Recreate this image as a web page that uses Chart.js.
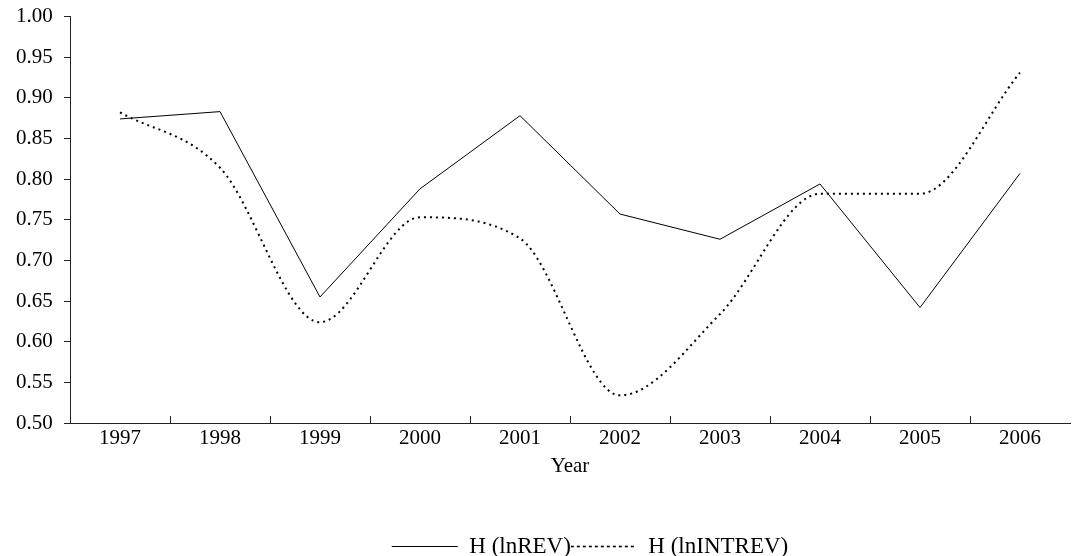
<!DOCTYPE html>
<html>
<head>
<meta charset="utf-8">
<script src="https://cdn.jsdelivr.net/npm/chart.js@4/dist/chart.umd.min.js"></script>
<style>
  html, body { margin: 0; padding: 0; background: #fff; overflow: hidden; }
  #wrap { width: 1087px; height: 568px; }
</style>
</head>
<body>
<div id="wrap"><canvas id="hchart"></canvas></div>
<script>
const years = ['1997', '1998', '1999', '2000', '2001', '2002', '2003', '2004', '2005', '2006'];
const hRev = [0.874, 0.883, 0.655, 0.788, 0.878, 0.757, 0.726, 0.794, 0.642, 0.807];
const hIntRev = [0.882, 0.814, 0.624, 0.753, 0.727, 0.534, 0.634, 0.782, 0.782, 0.931];

const FAMILY = "'Liberation Serif', serif";
const TICK_FONT = { family: FAMILY, size: 21, lineHeight: 1 };
const LEGEND_FONT = { family: FAMILY, size: 23 };

// inward x ticks between categories, like the original
const innerTicks = {
  id: 'innerTicks',
  afterDraw(chart) {
    const x = chart.scales.x;
    const ctx = chart.ctx;
    const bottom = chart.chartArea.bottom;
    ctx.save();
    ctx.strokeStyle = '#222';
    ctx.lineWidth = 1;
    for (let i = 0; i < years.length - 1; i++) {
      const px = Math.round((x.getPixelForValue(i) + x.getPixelForValue(i + 1)) / 2) + 0.5;
      ctx.beginPath();
      ctx.moveTo(px, bottom);
      ctx.lineTo(px, bottom - 7);
      ctx.stroke();
    }
    ctx.restore();
  }
};

// the legend sits a bit right of centre in the original
const legendShift = {
  id: 'legendShift',
  afterLayout(chart) {
    chart.legend.left += 50;
    chart.legend.right += 50;
  }
};

const config = {
  type: 'line',
  data: {
    labels: years,
    datasets: [{
      label: 'H (lnREV)',
      data: hRev,
      borderColor: '#000',
      borderWidth: 1,
      pointRadius: 0,
      tension: 0
    }, {
      label: 'H (lnINTREV)',
      data: hIntRev,
      borderColor: '#000',
      borderWidth: 2,
      borderDash: [2, 4],
      pointRadius: 0,
      cubicInterpolationMode: 'monotone'
    }]
  },
  options: {
    responsive: true,
    maintainAspectRatio: false,
    animation: false,
    layout: { padding: { top: 0, right: 17, left: 10, bottom: 0 } },
    plugins: {
      tooltip: { enabled: false },
      legend: {
        position: 'bottom',
        labels: {
          color: '#000',
          font: LEGEND_FONT,
          usePointStyle: true,
          pointStyle: 'line',
          pointStyleWidth: 66,
          boxHeight: 10,
          padding: 0,
          // line samples take the dataset's own dash and width
          generateLabels(chart) {
            return chart.data.datasets.map((ds, i) => ({
              text: ds.label,
              datasetIndex: i,
              fillStyle: '#000',
              strokeStyle: '#000',
              fontColor: '#000',
              lineWidth: i === 0 ? 1 : 1.6,
              lineDash: i === 0 ? [] : [3, 3],
              pointStyle: 'line',
              hidden: false
            }));
          }
        }
      }
    },
    scales: {
      x: {
        offset: true,
        border: { color: '#222', width: 1 },
        grid: { display: false, drawTicks: false },
        ticks: { color: '#000', font: TICK_FONT, padding: 5 },
        title: { display: true, text: 'Year', color: '#000', font: TICK_FONT, padding: { top: 2, bottom: 58 } }
      },
      y: {
        min: 0.5,
        max: 1.0,
        border: { color: '#222', width: 1 },
        grid: { drawOnChartArea: false, tickLength: 6, color: '#222' },
        ticks: {
          stepSize: 0.05,
          color: '#000',
          font: TICK_FONT,
          padding: 6,
          callback: v => v.toFixed(2) + ' '
        }
      }
    }
  },
  plugins: [innerTicks, legendShift]
};

const hChart = new Chart(document.getElementById('hchart'), config);
</script>
</body>
</html>
